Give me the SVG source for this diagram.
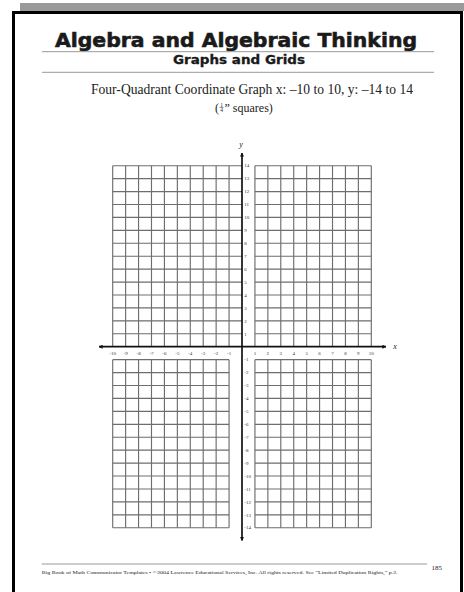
<svg xmlns="http://www.w3.org/2000/svg" width="464" height="592" viewBox="0 0 464 592">
<style>
.title{font-family:"DejaVu Sans","Liberation Sans",sans-serif;font-weight:bold;fill:#1a1a1a;stroke:#1a1a1a}
.serif{font-family:"Liberation Serif","Times New Roman",serif;fill:#222}
.tick{font-family:"Liberation Serif",serif;font-size:5px;fill:#333}
.rule{stroke:#999;stroke-width:1;fill:none}
.grid{stroke:#6e6e6e;stroke-width:1.15;fill:none}
.axis{stroke:#111;stroke-width:1.7;fill:none}
</style>
<defs>
<marker id="ah" viewBox="0 0 10 10" refX="9" refY="5" markerWidth="4" markerHeight="4" orient="auto" markerUnits="userSpaceOnUse">
<path d="M0 0L10 5L0 10Z" fill="#111"/>
</marker>
</defs>
<rect x="0" y="0" width="464" height="592" fill="#fff"/>
<rect x="20" y="3" width="444" height="8" fill="#9a9a9a"/>
<path d="M13.5 592V12.5H461.5V592" fill="none" stroke="#000" stroke-width="3"/>

<g id="header">
<text class="title" x="236" y="47" font-size="20" stroke-width="0.6" text-anchor="middle" textLength="362" lengthAdjust="spacingAndGlyphs">Algebra and Algebraic Thinking</text>
<line class="rule" x1="42" y1="51.7" x2="434" y2="51.7"/>
<text class="title" x="239" y="64.3" font-size="11.5" stroke-width="0.3" text-anchor="middle" textLength="132" lengthAdjust="spacingAndGlyphs">Graphs and Grids</text>
<line class="rule" x1="42" y1="72.3" x2="434" y2="72.3"/>
<text class="serif" x="252" y="94.3" font-size="14" text-anchor="middle" textLength="322" lengthAdjust="spacingAndGlyphs">Four-Quadrant Coordinate Graph x: –10 to 10, y: –14 to 14</text>
<text class="serif" x="215" y="111.7" font-size="12">(</text>
<text class="serif" x="221.5" y="106.5" font-size="5.5" text-anchor="middle">1</text>
<line x1="219.5" y1="107.5" x2="223.5" y2="107.5" stroke="#333" stroke-width="0.5"/>
<text class="serif" x="221.5" y="111.7" font-size="5.5" text-anchor="middle">4</text>
<text class="serif" x="224.5" y="111.7" font-size="12">” squares)</text>
</g>

<g id="grid" transform="translate(242 346.72) scale(12.93)">
<path class="grid" vector-effect="non-scaling-stroke" d="M-10 -14V0M-9 -14V0M-8 -14V0M-7 -14V0M-6 -14V0M-5 -14V0M-4 -14V0M-3 -14V0M-2 -14V0M-1 -14V0M1 -14V0M2 -14V0M3 -14V0M4 -14V0M5 -14V0M6 -14V0M7 -14V0M8 -14V0M9 -14V0M10 -14V0M-10 1V14M-9 1V14M-8 1V14M-7 1V14M-6 1V14M-5 1V14M-4 1V14M-3 1V14M-2 1V14M-1 1V14M1 1V14M2 1V14M3 1V14M4 1V14M5 1V14M6 1V14M7 1V14M8 1V14M9 1V14M10 1V14"/>
<path class="grid" vector-effect="non-scaling-stroke" d="M-10 -14H0M-10 -13H0M-10 -12H0M-10 -11H0M-10 -10H0M-10 -9H0M-10 -8H0M-10 -7H0M-10 -6H0M-10 -5H0M-10 -4H0M-10 -3H0M-10 -2H0M-10 -1H0M1 -14H10M1 -13H10M1 -12H10M1 -11H10M1 -10H10M1 -9H10M1 -8H10M1 -7H10M1 -6H10M1 -5H10M1 -4H10M1 -3H10M1 -2H10M1 -1H10M-10 1H-1M-10 2H-1M-10 3H-1M-10 4H-1M-10 5H-1M-10 6H-1M-10 7H-1M-10 8H-1M-10 9H-1M-10 10H-1M-10 11H-1M-10 12H-1M-10 13H-1M-10 14H-1M1 1H10M1 2H10M1 3H10M1 4H10M1 5H10M1 6H10M1 7H10M1 8H10M1 9H10M1 10H10M1 11H10M1 12H10M1 13H10M1 14H10"/>
</g>

<g id="axes">
<line class="axis" x1="242" y1="346.72" x2="99" y2="346.72" marker-end="url(#ah)"/>
<line class="axis" x1="242" y1="346.72" x2="386" y2="346.72" marker-end="url(#ah)"/>
<line class="axis" x1="242" y1="346.72" x2="242" y2="153" marker-end="url(#ah)"/>
<line class="axis" x1="242" y1="346.72" x2="242" y2="540.5" marker-end="url(#ah)"/>
<text class="serif" x="241" y="147" font-size="8" font-style="italic" text-anchor="middle">y</text>
<text class="serif" x="395" y="349" font-size="8" font-style="italic" text-anchor="middle">x</text>
</g>

<g id="x-labels" class="tick" text-anchor="middle">
<text x="112.7" y="354.5">-10</text><text x="125.63" y="354.5">-9</text><text x="138.56" y="354.5">-8</text><text x="151.49" y="354.5">-7</text><text x="164.42" y="354.5">-6</text><text x="177.35" y="354.5">-5</text><text x="190.28" y="354.5">-4</text><text x="203.21" y="354.5">-3</text><text x="216.14" y="354.5">-2</text><text x="229.07" y="354.5">-1</text>
<text x="254.93" y="354.5">1</text><text x="267.86" y="354.5">2</text><text x="280.79" y="354.5">3</text><text x="293.72" y="354.5">4</text><text x="306.65" y="354.5">5</text><text x="319.58" y="354.5">6</text><text x="332.51" y="354.5">7</text><text x="345.44" y="354.5">8</text><text x="358.37" y="354.5">9</text><text x="371.3" y="354.5">10</text>
</g>

<g id="y-labels" class="tick">
<text x="244.3" y="167.4">14</text><text x="244.3" y="180.3">13</text><text x="244.3" y="193.3">12</text><text x="244.3" y="206.2">11</text><text x="244.3" y="219.1">10</text><text x="244.3" y="232.1">9</text><text x="244.3" y="245">8</text><text x="244.3" y="257.9">7</text><text x="244.3" y="270.8">6</text><text x="244.3" y="283.8">5</text><text x="244.3" y="296.7">4</text><text x="244.3" y="309.6">3</text><text x="244.3" y="322.6">2</text><text x="244.3" y="335.5">1</text>
<text x="244.3" y="361.4">-1</text><text x="244.3" y="374.3">-2</text><text x="244.3" y="387.2">-3</text><text x="244.3" y="400.1">-4</text><text x="244.3" y="413.1">-5</text><text x="244.3" y="426">-6</text><text x="244.3" y="438.9">-7</text><text x="244.3" y="451.9">-8</text><text x="244.3" y="464.8">-9</text><text x="244.3" y="477.7">-10</text><text x="244.3" y="490.7">-11</text><text x="244.3" y="503.6">-12</text><text x="244.3" y="516.5">-13</text><text x="244.3" y="529.4">-14</text>
</g>

<g id="footer">
<line class="rule" x1="41.7" y1="564" x2="427" y2="564"/>
<text class="serif" x="431.5" y="569.5" font-size="7">185</text>
<text class="serif" x="41.7" y="574" font-size="4.6" textLength="356" lengthAdjust="spacingAndGlyphs">Big Book of Math Communicator Templates • ©2004 Lawrence Educational Services, Inc. All rights reserved. See “Limited Duplication Rights,” p.2.</text>
</g>
</svg>
